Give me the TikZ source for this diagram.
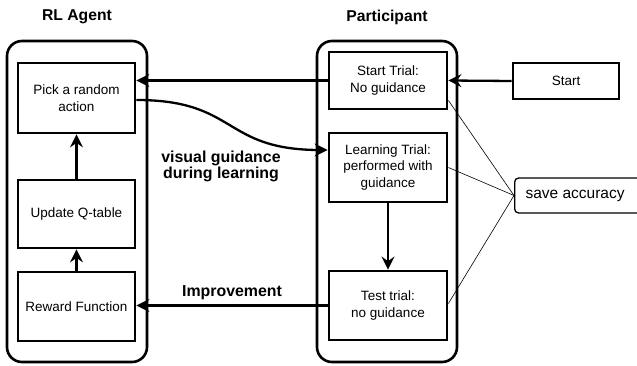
\documentclass[tikz,border=0pt]{standalone}
\usepackage{fontspec}
\setmainfont{Liberation Sans}
\usetikzlibrary{arrows.meta,calc}
\begin{document}
\begin{tikzpicture}[x=1pt,y=-1pt,
  container/.style={draw,line width=2.6pt,rounded corners=15pt},
  stepbox/.style={draw,line width=2.8pt,align=center,inner sep=0pt,font=\fontsize{13.5}{16.5}\selectfont},
  title/.style={font=\fontsize{15.7}{18}\selectfont\bfseries},
  lbl/.style={font=\fontsize{15.9}{16}\selectfont\bfseries,align=center},
  arr/.style={line width=2.3pt,-{Stealth[length=13pt,width=13pt,inset=4.5pt]}},
  thin/.style={line width=0.6pt}]
\useasboundingbox (0,0) rectangle (637,366);
\begin{scope}
\clip (0,0) rectangle (637,366);
% containers
\draw[container] (7,41) rectangle (147,362);
\draw[container] (317,41) rectangle (457,362);
% titles
\node[title] (tRL) at (77,17) {RL Agent};
\node[title] (tP) at (387,17) {Participant};
% agent boxes
\node[stepbox,minimum width=117pt,minimum height=70pt] (pick) at (76.5,98) {Pick a random\\action};
\node[stepbox,minimum width=117pt,minimum height=68pt] (update) at (76.5,214) {Update Q-table};
\node[stepbox,minimum width=117pt,minimum height=69pt] (reward) at (76.5,306.5) {Reward Function};
% participant boxes
\node[stepbox,minimum width=118pt,minimum height=57pt] (starttrial) at (388,80.5) {Start Trial:\\No guidance};
\node[stepbox,minimum width=118pt,minimum height=69pt] (learning) at (388,167.5) {Learning Trial:\\performed with\\guidance};
\node[stepbox,minimum width=118pt,minimum height=69pt] (test) at (388,305.5) {Test trial:\\no guidance};
% outside
\node[stepbox,minimum width=106pt,minimum height=36pt] (start) at (566,81) {Start};
\node[draw,line width=1.3pt,rounded corners=4pt,minimum width=140pt,minimum height=35pt,anchor=west,inner sep=0pt] (save) at (514,195.5) {};
\node[font=\fontsize{15.5}{18}\selectfont,anchor=west] (savetext) at (522,195.5) {save accuracy};
% arrows
\draw[arr] (update.north) -- (pick.south);
\draw[arr] (reward.north) -- (update.south);
\draw[arr] (start.west) -- (starttrial.east);
\draw[arr] (starttrial.west) -- (starttrial.west -| pick.east);
\coordinate (cstart) at ($(pick.east)+(0,2)$);
\coordinate (cend) at ($(learning.west)+(0,-17.5)$);
\draw[arr] (cstart) .. controls (238,100) and (222,150) .. (cend);
\draw[arr] (learning.south) -- (test.north);
\draw[arr] (test.west) -- (test.west -| reward.east);
% thin lines
\coordinate (stc) at ($(starttrial.south east)+(0,-10)$);
\draw[thin] (stc) -- (save.west);
\draw[thin] (learning.east) -- (save.west);
\draw[thin] ($(test.east)+(0,-2)$) -- (save.west);
% labels
\node[lbl] (vg) at (221,166) {visual guidance\\during learning};
\node[lbl] (imp) at (232,293) {Improvement};
\end{scope}
\end{tikzpicture}
\end{document}
